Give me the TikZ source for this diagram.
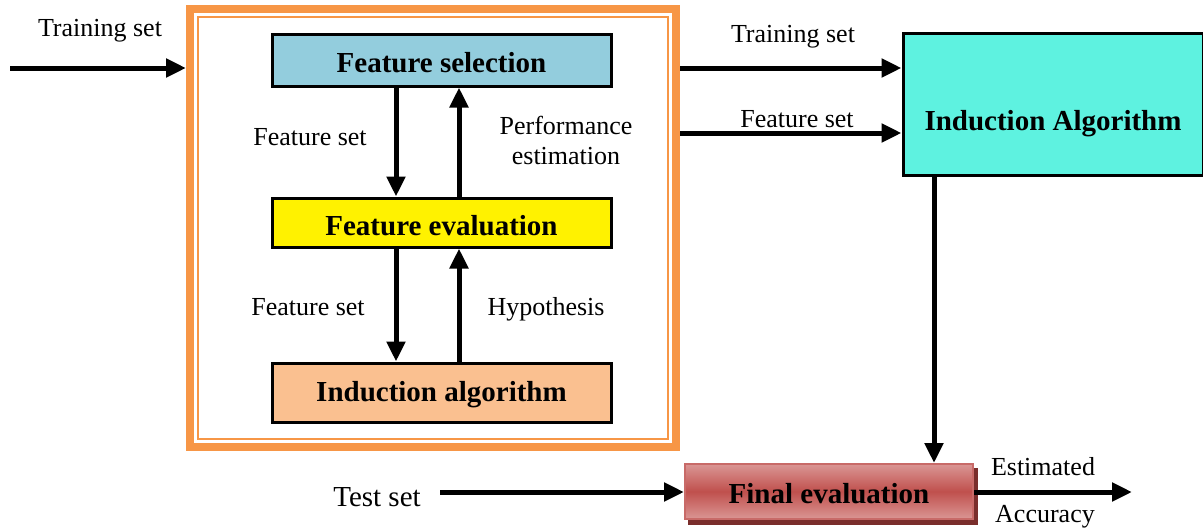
\documentclass[tikz,border=0pt]{standalone}
\usepackage{fontspec}
\setmainfont{Liberation Serif}
\usetikzlibrary{arrows.meta,backgrounds}
\definecolor{frameorange}{HTML}{F79646}
\definecolor{fsblue}{HTML}{93CDDD}
\definecolor{peach}{HTML}{FAC090}
\definecolor{cyanbox}{HTML}{5EF2E0}
\definecolor{redmid}{HTML}{C0504D}
\definecolor{redlight}{HTML}{DA9694}
\definecolor{redshadow}{HTML}{7A2E2C}
\definecolor{redborder}{HTML}{C86A68}
\tikzset{
  box/.style={draw=black, line width=3pt, inner sep=0pt, text height=27pt, text depth=2pt, font=\fontsize{29}{33}\selectfont\bfseries},
  lbl/.style={inner sep=0pt, text height=18pt, text depth=1pt, font=\fontsize{26}{30}\selectfont},
  lbltwo/.style={inner sep=0pt, font=\fontsize{26}{30}\selectfont, align=center},
  arr/.style={line width=5pt, -{Triangle[length=20pt,width=18pt]}}
}
\begin{document}
\begin{tikzpicture}[x=1pt,y=-1pt]
\useasboundingbox (0,0) rectangle (1203,530);
% frame
\node[draw=frameorange, line width=8pt, minimum width=486pt, minimum height=438pt, inner sep=0pt] (frame) at (433,228) {};
\node[draw=frameorange, line width=2pt, minimum width=470pt, minimum height=422pt, inner sep=0pt] (innerframe) at (433,228) {};
% boxes
\node[box, fill=fsblue, minimum width=339pt, minimum height=52pt] (fs) at (441.5,60) {Feature selection};
\node[box, fill=yellow, minimum width=339pt, minimum height=49pt] (fe) at (441.5,222.5) {Feature evaluation};
\node[box, fill=peach, text depth=10pt, minimum width=339pt, minimum height=59pt] (ia) at (441.5,392.5) {Induction algorithm};
\node[box, fill=cyanbox, text height=56pt, text depth=3pt, minimum width=300pt, minimum height=142pt] (IA) at (1053,104) {Induction Algorithm};
\node[box, draw=redborder, line width=2pt, top color=redlight, bottom color=redlight, middle color=redmid,
  text height=25pt, text depth=2pt, minimum width=288pt, minimum height=55pt] (fin) at (829,491.5) {Final evaluation};
\begin{scope}[on background layer]
  \fill[redshadow] ([xshift=4pt,yshift=-5pt]fin.south west) rectangle ([xshift=4pt,yshift=-5pt]fin.north east);
\end{scope}
% labels
\node[lbl] (l1) at (100,28) {Training set};
\node[lbl] (l2) at (310,137) {Feature set};
\node[lbltwo] (l3) at (566,140) {Performance\\estimation};
\node[lbl] (l4) at (308,307) {Feature set};
\node[lbl] (l5) at (546,307) {Hypothesis};
\node[lbl] (l6) at (793,34) {Training set};
\node[lbl] (l7) at (797,119) {Feature set};
\node[lbl, text height=20pt, font=\fontsize{29}{33}\selectfont] (l8) at (377,497) {Test set};
\node[lbl] (l9) at (1043,467) {Estimated};
\node[lbl] (l10) at (1045,514) {Accuracy};
% coordinates
\coordinate (inL) at (10,68);
\coordinate (testL) at (440,492);
\coordinate (outR) at (1132,492);
% arrows
\draw[arr] (inL) -- (inL -| frame.west);
\draw[arr] ([xshift=-45.5pt]fs.south) -- ([xshift=-45.5pt]fe.north);
\draw[arr] ([xshift=17.5pt]fe.north) -- ([xshift=17.5pt]fs.south);
\draw[arr] ([xshift=-45.5pt]fe.south) -- ([xshift=-45.5pt]ia.north);
\draw[arr] ([xshift=17.5pt]ia.north) -- ([xshift=17.5pt]fe.south);
\draw[arr] (frame.east |- 0,68) -- (IA.west |- 0,68);
\draw[arr] (frame.east |- 0,133) -- (IA.west |- 0,133);
\draw[arr] ([xshift=-119pt]IA.south) -- ([xshift=-119pt]IA.south |- fin.north);
\draw[arr] (testL) -- (testL -| fin.west);
\draw[arr] (fin.east |- outR) -- (outR);
\end{tikzpicture}
\end{document}
